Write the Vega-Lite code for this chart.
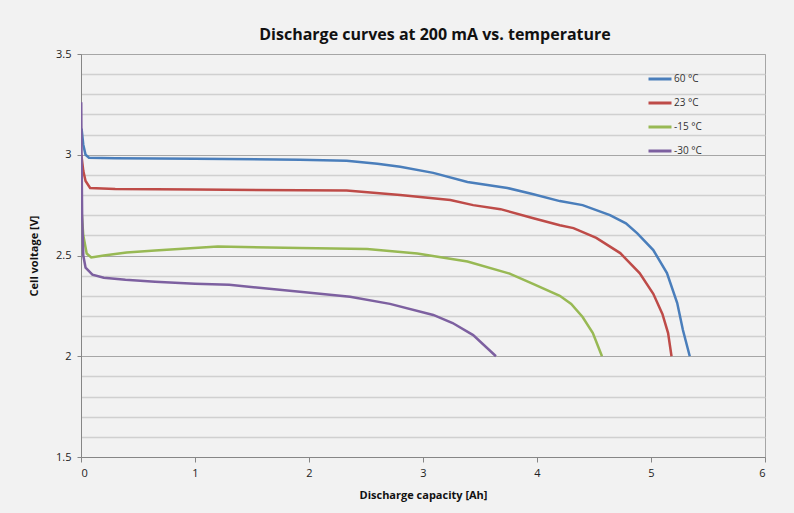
{
  "$schema": "https://vega.github.io/schema/vega-lite/v6.json",
  "width": 684,
  "height": 403,
  "autosize": {"type": "none"},
  "padding": {"left": 81, "top": 54, "right": 29, "bottom": 56},
  "background": "#f2f2f2",
  "config": {
    "view": {"stroke": "#a6a6a6", "strokeWidth": 1},
    "font": "Open Sans"
  },
  "title": {
    "text": "Discharge curves at 200 mA vs. temperature",
    "fontSize": 16,
    "fontWeight": "bold",
    "font": "Open Sans",
    "color": "#111111",
    "anchor": "middle",
    "dx": 12,
    "offset": 5
  },
  "data": {
    "values": [
      {"cap": 0.005, "v": 3.13, "t": "60 °C"},
      {"cap": 0.02, "v": 3.05, "t": "60 °C"},
      {"cap": 0.04, "v": 3.0, "t": "60 °C"},
      {"cap": 0.07, "v": 2.985, "t": "60 °C"},
      {"cap": 0.3, "v": 2.983, "t": "60 °C"},
      {"cap": 1.0, "v": 2.98, "t": "60 °C"},
      {"cap": 1.92, "v": 2.975, "t": "60 °C"},
      {"cap": 2.33, "v": 2.97, "t": "60 °C"},
      {"cap": 2.6, "v": 2.955, "t": "60 °C"},
      {"cap": 2.8, "v": 2.94, "t": "60 °C"},
      {"cap": 3.09, "v": 2.91, "t": "60 °C"},
      {"cap": 3.39, "v": 2.865, "t": "60 °C"},
      {"cap": 3.74, "v": 2.835, "t": "60 °C"},
      {"cap": 3.96, "v": 2.805, "t": "60 °C"},
      {"cap": 4.2, "v": 2.77, "t": "60 °C"},
      {"cap": 4.4, "v": 2.75, "t": "60 °C"},
      {"cap": 4.64, "v": 2.7, "t": "60 °C"},
      {"cap": 4.78, "v": 2.66, "t": "60 °C"},
      {"cap": 4.88, "v": 2.61, "t": "60 °C"},
      {"cap": 5.02, "v": 2.527, "t": "60 °C"},
      {"cap": 5.14, "v": 2.413, "t": "60 °C"},
      {"cap": 5.23, "v": 2.264, "t": "60 °C"},
      {"cap": 5.28, "v": 2.13, "t": "60 °C"},
      {"cap": 5.34, "v": 2.0, "t": "60 °C"},

      {"cap": 0.003, "v": 3.0, "t": "23 °C"},
      {"cap": 0.02, "v": 2.92, "t": "23 °C"},
      {"cap": 0.04, "v": 2.87, "t": "23 °C"},
      {"cap": 0.08, "v": 2.835, "t": "23 °C"},
      {"cap": 0.3, "v": 2.83, "t": "23 °C"},
      {"cap": 1.0, "v": 2.828, "t": "23 °C"},
      {"cap": 2.33, "v": 2.822, "t": "23 °C"},
      {"cap": 2.8, "v": 2.8, "t": "23 °C"},
      {"cap": 3.24, "v": 2.775, "t": "23 °C"},
      {"cap": 3.44, "v": 2.75, "t": "23 °C"},
      {"cap": 3.68, "v": 2.73, "t": "23 °C"},
      {"cap": 3.96, "v": 2.686, "t": "23 °C"},
      {"cap": 4.2, "v": 2.65, "t": "23 °C"},
      {"cap": 4.32, "v": 2.636, "t": "23 °C"},
      {"cap": 4.52, "v": 2.587, "t": "23 °C"},
      {"cap": 4.73, "v": 2.512, "t": "23 °C"},
      {"cap": 4.9, "v": 2.413, "t": "23 °C"},
      {"cap": 5.02, "v": 2.31, "t": "23 °C"},
      {"cap": 5.1, "v": 2.21, "t": "23 °C"},
      {"cap": 5.15, "v": 2.115, "t": "23 °C"},
      {"cap": 5.18, "v": 2.0, "t": "23 °C"},

      {"cap": 0.005, "v": 2.72, "t": "-15 °C"},
      {"cap": 0.02, "v": 2.6, "t": "-15 °C"},
      {"cap": 0.05, "v": 2.51, "t": "-15 °C"},
      {"cap": 0.09, "v": 2.49, "t": "-15 °C"},
      {"cap": 0.2, "v": 2.5, "t": "-15 °C"},
      {"cap": 0.4, "v": 2.515, "t": "-15 °C"},
      {"cap": 0.65, "v": 2.525, "t": "-15 °C"},
      {"cap": 1.2, "v": 2.545, "t": "-15 °C"},
      {"cap": 1.92, "v": 2.537, "t": "-15 °C"},
      {"cap": 2.51, "v": 2.532, "t": "-15 °C"},
      {"cap": 2.95, "v": 2.51, "t": "-15 °C"},
      {"cap": 3.39, "v": 2.47, "t": "-15 °C"},
      {"cap": 3.76, "v": 2.41, "t": "-15 °C"},
      {"cap": 3.96, "v": 2.36, "t": "-15 °C"},
      {"cap": 4.2, "v": 2.3, "t": "-15 °C"},
      {"cap": 4.3, "v": 2.26, "t": "-15 °C"},
      {"cap": 4.4, "v": 2.195, "t": "-15 °C"},
      {"cap": 4.49, "v": 2.115, "t": "-15 °C"},
      {"cap": 4.57, "v": 2.0, "t": "-15 °C"},

      {"cap": 0.002, "v": 3.26, "t": "-30 °C"},
      {"cap": 0.005, "v": 3.0, "t": "-30 °C"},
      {"cap": 0.01, "v": 2.7, "t": "-30 °C"},
      {"cap": 0.02, "v": 2.5, "t": "-30 °C"},
      {"cap": 0.04, "v": 2.44, "t": "-30 °C"},
      {"cap": 0.1, "v": 2.405, "t": "-30 °C"},
      {"cap": 0.2, "v": 2.39, "t": "-30 °C"},
      {"cap": 0.39, "v": 2.38, "t": "-30 °C"},
      {"cap": 0.65, "v": 2.37, "t": "-30 °C"},
      {"cap": 1.0, "v": 2.36, "t": "-30 °C"},
      {"cap": 1.3, "v": 2.355, "t": "-30 °C"},
      {"cap": 1.92, "v": 2.32, "t": "-30 °C"},
      {"cap": 2.36, "v": 2.295, "t": "-30 °C"},
      {"cap": 2.71, "v": 2.26, "t": "-30 °C"},
      {"cap": 3.09, "v": 2.205, "t": "-30 °C"},
      {"cap": 3.26, "v": 2.165, "t": "-30 °C"},
      {"cap": 3.44, "v": 2.105, "t": "-30 °C"},
      {"cap": 3.64, "v": 2.0, "t": "-30 °C"}
    ]
  },
  "mark": {"type": "line", "strokeWidth": 2.5, "clip": true},
  "encoding": {
    "x": {
      "field": "cap",
      "type": "quantitative",
      "scale": {"domain": [0, 6], "nice": false, "zero": false},
      "axis": {
        "title": "Discharge capacity [Ah]",
        "titleFont": "Open Sans",
        "titleFontSize": 11,
        "titleFontWeight": "bold",
        "titleColor": "#111111",
        "titlePadding": 11,
        "values": [0, 1, 2, 3, 4, 5, 6],
        "grid": false,
        "domainColor": "#868686",
        "tickColor": "#868686",
        "tickSize": 5,
        "labelFont": "Open Sans",
        "labelFontSize": 11,
        "labelColor": "#222222",
        "labelPadding": 5
      }
    },
    "y": {
      "field": "v",
      "type": "quantitative",
      "scale": {"domain": [1.5, 3.5], "nice": false, "zero": false},
      "axis": {
        "title": "Cell voltage [V]",
        "titleFont": "Open Sans",
        "titleFontSize": 11,
        "titleFontWeight": "bold",
        "titleColor": "#111111",
        "titlePadding": 16,
        "values": [1.5, 1.6, 1.7, 1.8, 1.9, 2.0, 2.1, 2.2, 2.3, 2.4, 2.5, 2.6, 2.7, 2.8, 2.9, 3.0, 3.1, 3.2, 3.3, 3.4, 3.5],
        "labelExpr": "abs(datum.value * 2 - round(datum.value * 2)) < 0.000001 ? format(datum.value, '~g') : ''",
        "grid": true,
        "gridColor": {
          "condition": {"test": "abs(datum.value * 2 - round(datum.value * 2)) < 0.000001", "value": "#a6a6a6"},
          "value": "#d0d0d0"
        },
        "gridWidth": {
          "condition": {"test": "abs(datum.value * 2 - round(datum.value * 2)) < 0.000001", "value": 1},
          "value": 1.5
        },
        "tickOpacity": {
          "condition": {"test": "abs(datum.value * 2 - round(datum.value * 2)) < 0.000001", "value": 1},
          "value": 0
        },
        "domainColor": "#868686",
        "tickColor": "#868686",
        "tickSize": 4,
        "labelFont": "Open Sans",
        "labelFontSize": 11,
        "labelColor": "#222222",
        "labelPadding": 6
      }
    },
    "color": {
      "field": "t",
      "type": "nominal",
      "sort": ["60 °C", "23 °C", "-15 °C", "-30 °C"],
      "scale": {
        "domain": ["60 °C", "23 °C", "-15 °C", "-30 °C"],
        "range": ["#4a7ebb", "#be4b48", "#98b954", "#7d60a0"]
      },
      "legend": {
        "title": null,
        "orient": "none",
        "legendX": 566,
        "legendY": 12,
        "symbolType": "stroke",
        "symbolSize": 529,
        "symbolStrokeWidth": 3,
        "labelFont": "Open Sans",
        "labelFontSize": 10,
        "labelColor": "#333333",
        "labelOffset": 1,
        "rowPadding": 5
      }
    }
  }
}
